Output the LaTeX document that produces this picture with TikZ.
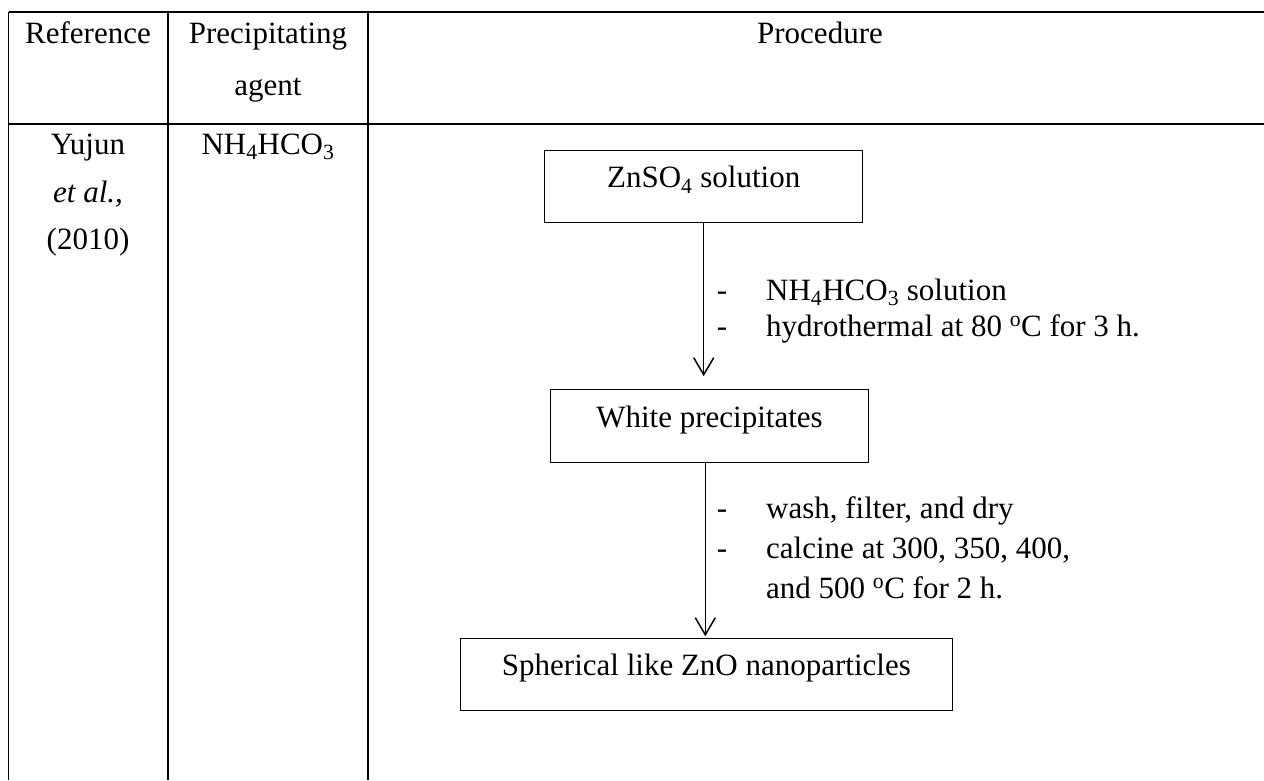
\documentclass[tikz,border=0pt]{standalone}
\usepackage{fontspec}
\setmainfont{Liberation Serif}
\usetikzlibrary{arrows.meta}
\tikzset{
  every node/.style={font=\fontsize{31}{36}\selectfont, inner sep=0pt},
  tbl/.style={line width=1.8pt},
  txt/.style={anchor=base},
  lbl/.style={anchor=base west},
  boxnode/.style={draw, line width=1pt, text height=0.7em, text depth=0.44em},
  arr/.style={line width=1.5pt, -{Straight Barb[length=17pt,width=20pt,line width=1.5pt]}}
}
\begin{document}
\begin{tikzpicture}[x=1pt,y=-1pt]
\fill[white] (0,0) rectangle (1264,780);
\path[use as bounding box] (0,0) rectangle (1264,780);
% table grid
\coordinate (tl) at (8.5,12);
\coordinate (tr) at (1264,12);
\coordinate (hl) at (8.5,124);
\coordinate (hr) at (1264,124);
\coordinate (c1t) at (8.5,12);
\coordinate (c1b) at (8.5,780);
\coordinate (c2t) at (168,12);
\coordinate (c2b) at (168,780);
\coordinate (c3t) at (368,12);
\coordinate (c3b) at (368,780);
\draw[tbl] (tl) -- (tr);
\draw[tbl] (hl) -- (hr);
\draw[tbl] (c1t) -- (c1b);
\draw[tbl] (c2t) -- (c2b);
\draw[tbl] (c3t) -- (c3b);
% header
\node[txt] (hRef) at (88,43) {Reference};
\node[txt] (hPre1) at (268,43) {Precipitating};
\node[txt] (hPre2) at (268,95) {agent};
\node[txt] (hProc) at (820,43) {Procedure};
% body
\node[txt] (r1) at (88,154) {Yujun};
\node[txt] (r2) at (88,202) {\textit{et al.,}};
\node[txt] (r3) at (88,249) {(2010)};
\node[txt] (ag) at (268,154) {NH\textsubscript{4}HCO\textsubscript{3}};
% flowchart
\node[boxnode, minimum width=317.5pt, minimum height=72.3pt] (b1) at (703.7,186.2) {ZnSO\textsubscript{4} solution};
\node[boxnode, minimum width=317.7pt, minimum height=72.7pt] (b2) at (709.5,426.3) {White precipitates};
\node[boxnode, minimum width=492pt, minimum height=72.4pt] (b3) at (706.4,674.5) {Spherical like ZnO nanoparticles};
\draw[arr, shorten >=13.3pt] (b1.south) -- (b1.south |- b2.north);
\draw[arr, shorten >=1.6pt] ([xshift=-4.2pt]b2.south) -- ([xshift=-4.2pt]b2.south |- b3.north);
% labels
\node[txt] (d1) at (722,300) {-};
\node[lbl] (l1) at (766,300) {NH\textsubscript{4}HCO\textsubscript{3} solution};
\node[txt] (d2) at (722,336) {-};
\node[lbl] (l2) at (766,336) {hydrothermal at 80 \textsuperscript{o}C for 3 h.};
\node[txt] (d3) at (722,518) {-};
\node[lbl] (l3) at (766,518) {wash, filter, and dry};
\node[txt] (d4) at (722,558) {-};
\node[lbl] (l4) at (766,558) {calcine at 300, 350, 400,};
\node[lbl] (l5) at (766,598) {and 500 \textsuperscript{o}C for 2 h.};
\end{tikzpicture}
\end{document}
